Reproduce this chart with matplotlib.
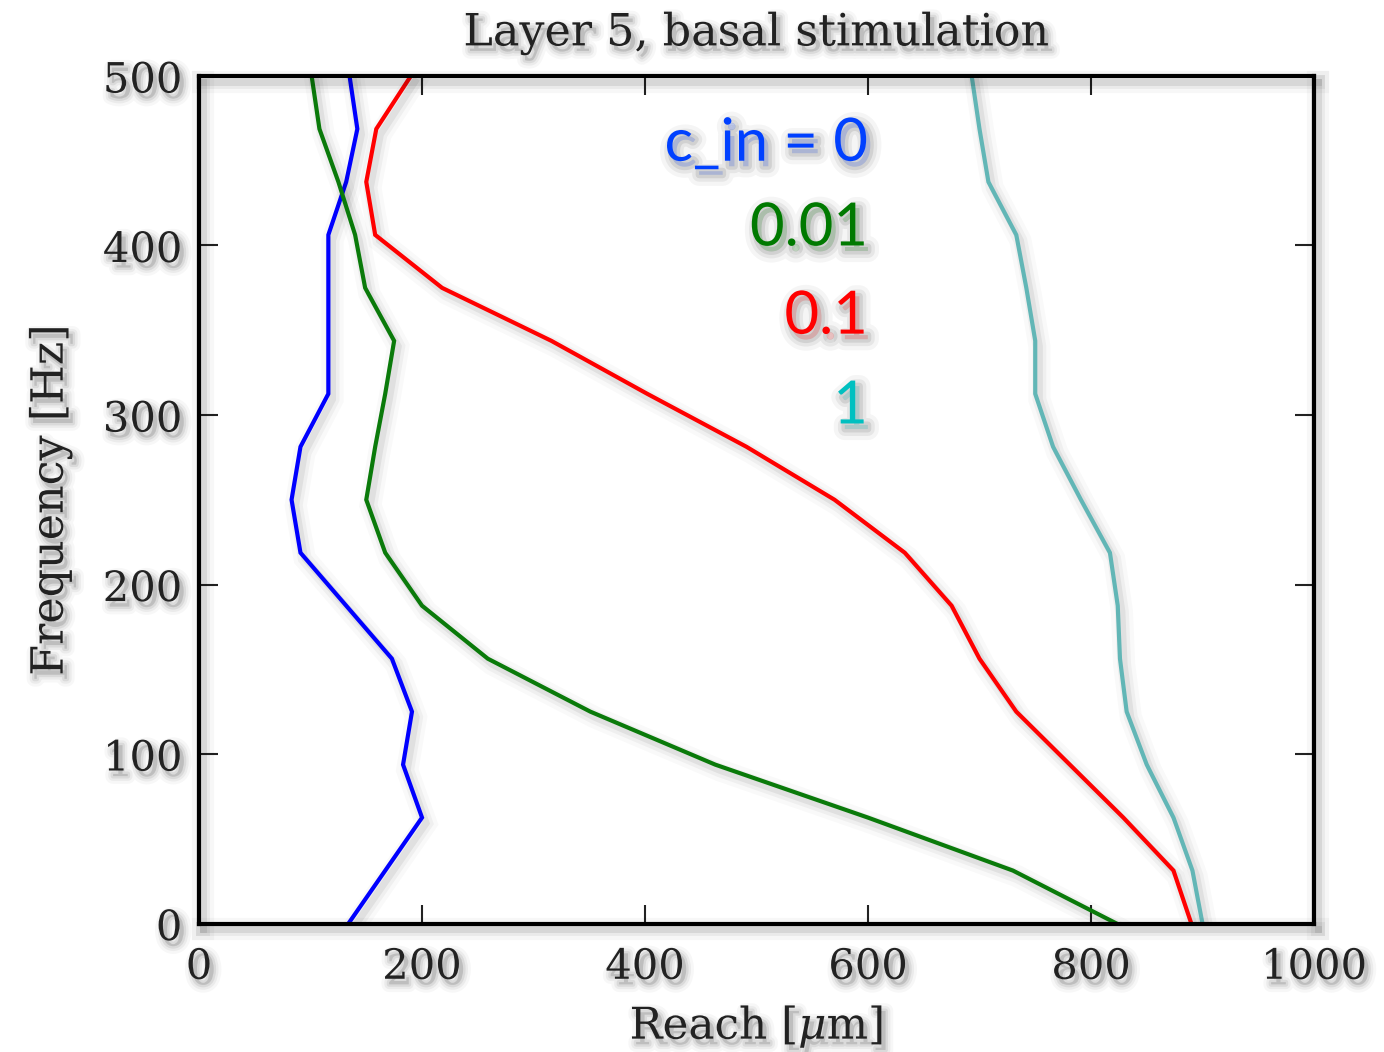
import matplotlib
matplotlib.use("Agg")
import matplotlib.pyplot as plt
import matplotlib.patheffects as pe
import numpy as np

# frequency grid (Hz) shared by all curves
freq = [0, 31.25, 62.5, 93.75, 125, 156.25, 187.5, 218.75, 250,
        281.25, 312.5, 343.75, 375, 406.25, 437.5, 468.75, 500]

# reach (um) for each c_in value
reach_c0 = [134, 167, 200, 183, 191, 173, 132, 91, 83,
            91, 116, 116, 116, 116, 132, 142, 135]
reach_c001 = [823, 730, 600, 463, 351, 259, 200, 167, 150,
              158, 167, 175, 149, 140, 125, 108, 101]
reach_c01 = [890, 874, 829, 781, 733, 700, 675, 633, 570,
             491, 402, 316, 218, 158, 150, 159, 190]
reach_c1 = [900, 891, 874, 850, 832, 826, 824, 817, 791,
            766, 750, 750, 742, 733, 708, 700, 693]

labels = ["c_in = 0", "0.01", "0.1", "1"]
label_y = [450, 400, 348, 295]
line_colors = ["#0000ff", "#0a7a0a", "#ff0000", "#62b6b6"]
text_colors = ["#0040ff", "#007a00", "#ff0000", "#00c0c0"]

serif = "DejaVu Serif"
plt.rcParams["mathtext.fontset"] = "dejavuserif"


def shadow(scale=1.0, strength=1.0):
    # rough blurred drop shadow, built from a few soft strokes
    fx = []
    for w, a in ((16, 0.025), (10, 0.04), (5, 0.06)):
        fx.append(pe.Stroke(offset=(3, -4), linewidth=w * scale,
                            foreground="k", alpha=a * strength))
    fx.append(pe.Normal())
    return fx


fig = plt.figure(figsize=(13.84, 10.52), dpi=100)
ax = fig.add_axes([0.1438, 0.1221, 0.8056, 0.8057])

series = [reach_c0, reach_c001, reach_c01, reach_c1]
for vals, col in zip(series, line_colors):
    ax.plot(vals, freq, color=col, lw=3.0, solid_joinstyle="miter",
            path_effects=shadow())

for lab, y, col in zip(labels, label_y, text_colors):
    ax.text(600, y, lab, color=col, fontsize=43, family="Lato",
            ha="right", va="baseline", path_effects=shadow(1.0, 1.5))

ax.set_xlim(0, 1000)
ax.set_ylim(0, 500)
ax.set_xticks([0, 200, 400, 600, 800, 1000])
ax.set_yticks([0, 100, 200, 300, 400, 500])

ax.tick_params(direction="in", length=14, width=1.5, color="#222222",
               top=True, right=True, labelsize=30)
ax.tick_params(axis="x", pad=16)
ax.tick_params(axis="y", pad=12)
for lab in ax.get_xticklabels() + ax.get_yticklabels():
    lab.set_family(serif)
    lab.set_color("#222222")
    lab.set_path_effects(shadow(0.7, 1.2))

for sp in ax.spines.values():
    sp.set_linewidth(3)
    sp.set_color("black")
    sp.set_path_effects(shadow(1.0, 1.3))

ax.set_title("Layer 5, basal stimulation", fontsize=32, family=serif,
             color="#222222", pad=22, path_effects=shadow(0.7, 1.2))
ax.set_xlabel(r"Reach [$\mu$m]", fontsize=31.5, family=serif, color="#222222",
              labelpad=10, path_effects=shadow(0.7, 1.2))
ax.set_ylabel("Frequency [Hz]", fontsize=32, family=serif, color="#222222",
              labelpad=22, path_effects=shadow(0.7, 1.2))

fig.savefig("out.png", dpi=100)
